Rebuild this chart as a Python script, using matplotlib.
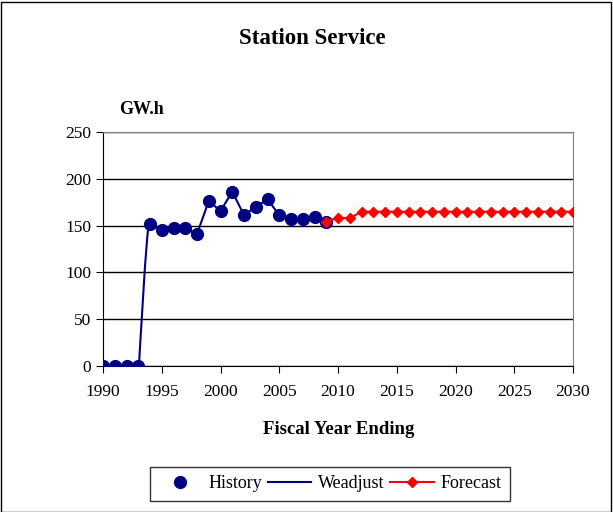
import matplotlib.pyplot as plt
from matplotlib.lines import Line2D
from matplotlib.patches import Rectangle

plt.rcParams['font.family'] = ['Liberation Serif', 'DejaVu Serif']

# Annual history values (GW.h)
hist_years = list(range(1990, 2010))
hist_vals = [0, 0, 0, 0, 151.4, 145.3, 147.8, 147.0, 141.0, 176.3,
             165.6, 186.2, 161.3, 169.9, 178.0, 161.3, 157.4, 157.4, 159.5, 154.2]

# Weather-adjusted series (finer steps through the 1993-94 ramp)
wadj_years = [1990, 1991, 1992, 1993, 1993.06, 1993.15, 1993.29, 1993.43, 1993.57,
              1993.77, 1993.86] + list(range(1994, 2010))
wadj_vals = [0, 0, 0, 0, 0, 20.6, 49, 77.6, 106, 138, 148.8] + hist_vals[4:]

# Forecast
fc_years = list(range(2009, 2031))
fc_vals = [154.2, 158.5, 157.8] + [164.9] * 19

navy = '#000080'
fig = plt.figure(figsize=(6.13, 5.12), dpi=100)
ax = fig.add_axes([103/613, 1 - 366/512, 470/613, 234/512])

ax.plot(wadj_years, wadj_vals, color=navy, lw=1.5, zorder=3)
ax.plot(hist_years, hist_vals, 'o', color=navy, ms=8.5, zorder=4)
ax.plot(fc_years, fc_vals, '-D', color='red', ms=5, lw=1.5, zorder=5)

ax.set_xlim(1990, 2030)
ax.set_ylim(0, 250)
ax.set_xticks(range(1990, 2031, 5))
ax.set_yticks(range(0, 251, 50))
ax.yaxis.grid(True, color='black', lw=1)
ax.set_axisbelow(True)
for s in ['top', 'right']:
    ax.spines[s].set_color('#808080')
for s in ['left', 'bottom']:
    ax.spines[s].set_color('black')
ax.tick_params(labelsize=12.5, direction='out', length=5)
ax.tick_params(axis='x', pad=8)
for lab in ax.get_xticklabels() + ax.get_yticklabels():
    lab.set_clip_on(False)
ax.margins(0)

fig.text(312/613, 1 - 38/512, 'Station Service', ha='center', va='center',
         fontsize=16.5, fontweight='bold')
fig.text(141/613, 1 - 110/512, 'GW.h', ha='center', va='center',
         fontsize=13, fontweight='bold')
fig.text(339/613, 1 - 430/512, 'Fiscal Year Ending', ha='center', va='center',
         fontsize=13.5, fontweight='bold')

handles = [Line2D([], [], ls='none', marker='o', color=navy, ms=8.5),
           Line2D([], [], color=navy, lw=1.5),
           Line2D([], [], color='red', marker='D', ms=5, lw=1.5)]
fig.legend(handles, ['History', 'Weadjust', 'Forecast'], ncol=3,
           loc='center', bbox_to_anchor=(330/613, 1 - 484/512),
           fontsize=13, frameon=True, fancybox=False, edgecolor='black',
           handlelength=2.4, columnspacing=0.3, handletextpad=0.4,
           borderpad=0.45)

fig.patches.append(Rectangle((0.002, 0.0), 0.994, 0.996, transform=fig.transFigure,
                             fill=False, edgecolor='black', lw=1))

fig.savefig('out.png', dpi=100)
